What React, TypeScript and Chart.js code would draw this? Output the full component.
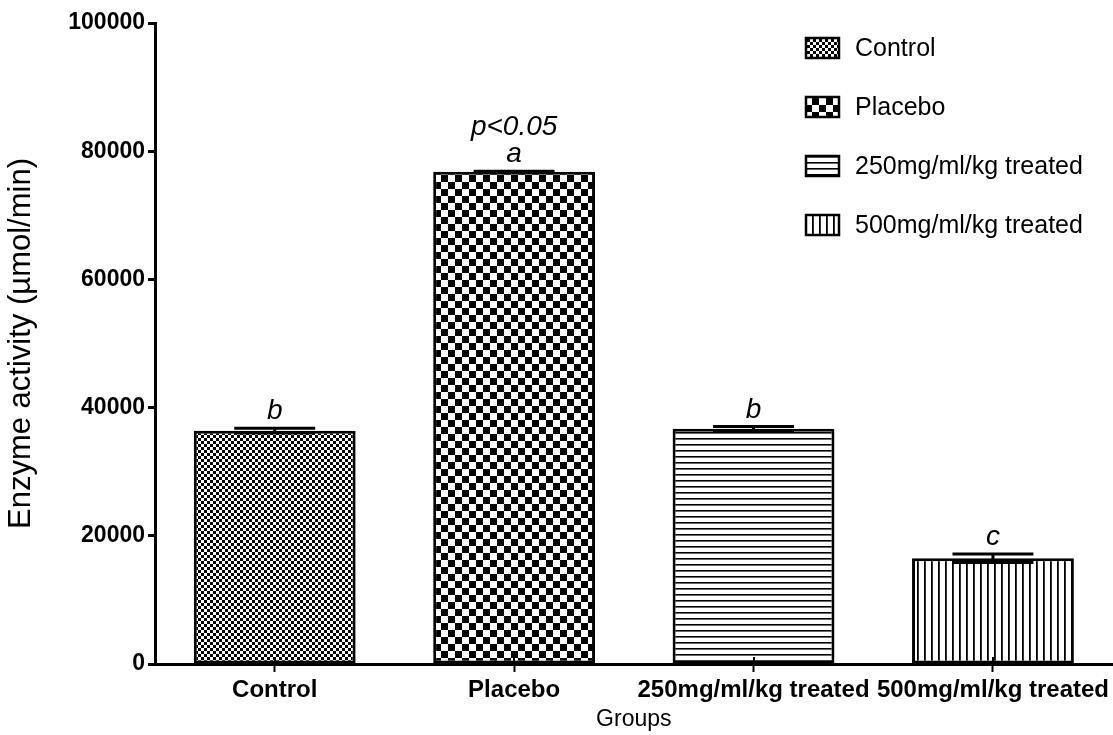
import React, { useEffect, useRef } from "react";
import { Chart, registerables } from "chart.js";

Chart.register(...registerables);

// ---- data ----
const categories = ["Control", "Placebo", "250mg/ml/kg treated", "500mg/ml/kg treated"];
const meanValues = [36400, 76800, 36700, 16500];
const semValues = [380, 80, 340, 650];
const letterLabels = ["b", "a", "b", "c"];
const noteLabels = ["", "p<0.05", "", ""];
const yTickValues = [0, 20000, 40000, 60000, 80000, 100000];
const patternKinds = ["fineChecker", "coarseChecker", "hLines", "vLines"];

const FONT = "'Liberation Sans', Arial, Helvetica, sans-serif";

function makePattern(kind: string): CanvasPattern | string {
  const c = document.createElement("canvas");
  const ctx = c.getContext("2d");
  if (!ctx) return "#000";
  if (kind === "fineChecker") {
    c.width = 6; c.height = 6;
    ctx.fillStyle = "#fff"; ctx.fillRect(0, 0, 6, 6);
    ctx.fillStyle = "#000"; ctx.fillRect(0, 0, 3, 3); ctx.fillRect(3, 3, 3, 3);
  } else if (kind === "coarseChecker") {
    c.width = 14; c.height = 14;
    ctx.fillStyle = "#fff"; ctx.fillRect(0, 0, 14, 14);
    ctx.fillStyle = "#000"; ctx.fillRect(0, 0, 7, 7); ctx.fillRect(7, 7, 7, 7);
  } else if (kind === "hLines") {
    c.width = 6; c.height = 6;
    ctx.fillStyle = "#fff"; ctx.fillRect(0, 0, 6, 6);
    ctx.fillStyle = "#000"; ctx.fillRect(0, 0, 6, 1.6);
  } else {
    c.width = 7; c.height = 7;
    ctx.fillStyle = "#fff"; ctx.fillRect(0, 0, 7, 7);
    ctx.fillStyle = "#000"; ctx.fillRect(0, 0, 1.8, 7);
  }
  const p = ctx.createPattern(c, "repeat");
  return p || "#000";
}

const errorBarPlugin = {
  id: "errorBarsAndLetters",
  afterDatasetsDraw(chart: any) {
    const ctx = chart.ctx;
    const yScale = chart.scales.y;
    const meta = chart.getDatasetMeta(0);
    ctx.save();
    meta.data.forEach((bar: any, i: number) => {
      const x = bar.x;
      const half = bar.width / 4;
      const top = yScale.getPixelForValue(meanValues[i] + semValues[i]);
      const bot = yScale.getPixelForValue(meanValues[i] - semValues[i]);
      ctx.strokeStyle = "#000";
      ctx.lineWidth = 3;
      ctx.beginPath();
      ctx.moveTo(x, top); ctx.lineTo(x, bot);
      ctx.moveTo(x - half, top); ctx.lineTo(x + half, top);
      ctx.moveTo(x - half, bot); ctx.lineTo(x + half, bot);
      ctx.stroke();
      ctx.fillStyle = "#000";
      ctx.font = `italic 28px ${FONT}`;
      ctx.textAlign = "center";
      ctx.textBaseline = "alphabetic";
      const base = top - 9;
      ctx.fillText(letterLabels[i], x, base);
      if (noteLabels[i]) ctx.fillText(noteLabels[i], x, base - 27);
    });
    ctx.restore();
  },
  afterDraw(chart: any) {
    // inner half of the x-axis tick marks (ticks cross the axis)
    const ctx = chart.ctx;
    const xScale = chart.scales.x;
    const bottom = chart.chartArea.bottom;
    ctx.save();
    ctx.strokeStyle = "#000";
    ctx.lineWidth = 2;
    xScale.ticks.forEach((_t: any, i: number) => {
      const px = Math.round(xScale.getPixelForTick(i));
      ctx.beginPath();
      ctx.moveTo(px, bottom - 7);
      ctx.lineTo(px, bottom);
      ctx.stroke();
    });
    ctx.restore();
  },
};

const legendPlugin = {
  id: "patternLegend",
  afterDraw(chart: any) {
    const ctx = chart.ctx;
    const labels: string[] = chart.data.labels;
    const fills: any[] = chart.data.datasets[0].backgroundColor;
    ctx.save();
    labels.forEach((lab, i) => {
      const cy = 48 + i * 59;
      const bx = 806, bw = 33, bh = 20;
      ctx.fillStyle = fills[i];
      ctx.fillRect(bx, cy - bh / 2, bw, bh);
      ctx.strokeStyle = "#000";
      ctx.lineWidth = 2.5;
      ctx.strokeRect(bx, cy - bh / 2, bw, bh);
      ctx.fillStyle = "#000";
      ctx.font = `25px ${FONT}`;
      ctx.textAlign = "left";
      ctx.textBaseline = "middle";
      ctx.fillText(lab, 855, cy + 1);
    });
    ctx.restore();
  },
};

export default function App() {
  const canvasRef = useRef<HTMLCanvasElement | null>(null);

  useEffect(() => {
    const canvas = canvasRef.current;
    if (!canvas) return;
    Chart.defaults.color = "#000";
    Chart.defaults.font.family = FONT;
    const patterns = patternKinds.map((k) => makePattern(k));
    const chart = new Chart(canvas, {
      type: "bar",
      data: {
        labels: categories,
        datasets: [
          {
            label: "Enzyme activity",
            data: meanValues,
            backgroundColor: patterns as any,
            borderColor: "#000",
            borderWidth: 3,
            borderSkipped: false,
            barPercentage: 0.676,
            categoryPercentage: 1,
          },
        ],
      },
      options: {
        responsive: false,
        animation: false,
        devicePixelRatio: 1,
        layout: { padding: { top: 23, right: 0, left: 0, bottom: 0 } },
        plugins: {
          legend: { display: false },
          tooltip: { enabled: false },
        },
        scales: {
          x: {
            offset: true,
            grid: {
              display: true,
              offset: false,
              drawOnChartArea: false,
              drawTicks: true,
              tickLength: 8,
              tickWidth: 2,
              tickColor: "#000",
              color: "#000",
            },
            border: { display: true, color: "#000", width: 3 },
            ticks: {
              autoSkip: false,
              maxRotation: 0,
              minRotation: 0,
              padding: 4,
              color: "#000",
              font: { size: 24, weight: "bold", family: FONT },
            },
            title: {
              display: true,
              text: "Groups",
              color: "#000",
              font: { size: 23, family: FONT },
              padding: { top: 0, bottom: 2 },
            },
            afterFit(scale: any) {
              scale.height = 71;
            },
          },
          y: {
            min: 0,
            max: 100000,
            afterBuildTicks(scale: any) {
              scale.ticks = yTickValues.map((v) => ({ value: v }));
            },
            grid: {
              display: true,
              drawOnChartArea: false,
              drawTicks: true,
              tickLength: 7,
              tickWidth: 3,
              tickColor: "#000",
              color: "#000",
            },
            border: { display: true, color: "#000", width: 3 },
            ticks: {
              padding: 3,
              color: "#000",
              font: { size: 23, weight: "bold", family: FONT },
              callback: (v: any) => String(v),
            },
            title: {
              display: true,
              text: "Enzyme activity (µmol/min)",
              color: "#000",
              font: { size: 31, family: FONT },
              padding: { top: 3, bottom: 0 },
            },
            afterFit(scale: any) {
              scale.width = 155;
            },
          },
        },
      },
      plugins: [errorBarPlugin, legendPlugin],
    });
    return () => chart.destroy();
  }, []);

  return (
    <div style={{ position: "absolute", left: 0, top: 0, width: 1113, height: 735, background: "#fff" }}>
      <canvas ref={canvasRef} width={1113} height={735} style={{ width: 1113, height: 735, display: "block" }} />
    </div>
  );
}
